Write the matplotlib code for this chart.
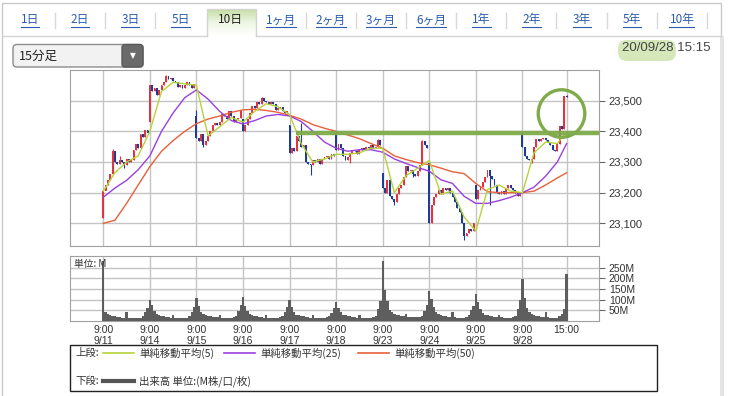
import numpy as np
import matplotlib
matplotlib.use('Agg')
import matplotlib.pyplot as plt
from matplotlib.patches import Rectangle, Ellipse, FancyBboxPatch
from matplotlib.colors import LinearSegmentedColormap

plt.rcParams['font.family'] = ['Noto Sans CJK JP', 'DejaVu Sans']

W, H = 735, 396

# 15分足 / 1日20本
days = ['9/11', '9/14', '9/15', '9/16', '9/17', '9/18', '9/23', '9/24', '9/25', '9/28']
day_open = [23117, 23430, 23450, 23440, 23420, 23395, 23264, 23296, 23225, 23395]
closes = [
    [23204, 23225, 23240, 23262, 23335, 23300, 23295, 23305, 23300, 23290,
     23310, 23300, 23305, 23340, 23360, 23345, 23390, 23380, 23405, 23395],
    [23550, 23530, 23540, 23520, 23535, 23550, 23560, 23580, 23570, 23575,
     23565, 23560, 23545, 23550, 23540, 23550, 23560, 23550, 23540, 23555],
    [23378, 23367, 23390, 23357, 23370, 23385, 23400, 23422, 23427, 23420,
     23430, 23455, 23450, 23440, 23465, 23450, 23430, 23440, 23445, 23465],
    [23400, 23420, 23440, 23460, 23482, 23475, 23495, 23490, 23508, 23500,
     23495, 23490, 23495, 23490, 23470, 23475, 23478, 23465, 23460, 23465],
    [23330, 23345, 23335, 23384, 23370, 23350, 23355, 23300, 23295, 23290,
     23305, 23300, 23310, 23295, 23310, 23315, 23320, 23310, 23325, 23320],
    [23340, 23360, 23345, 23320, 23308, 23315, 23330, 23340, 23335, 23325,
     23340, 23345, 23340, 23350, 23345, 23355, 23345, 23350, 23372, 23355],
    [23215, 23200, 23240, 23190, 23180, 23170, 23195, 23215, 23225, 23250,
     23286, 23270, 23275, 23262, 23255, 23270, 23290, 23367, 23355, 23345],
    [23100, 23160, 23185, 23195, 23210, 23195, 23215, 23210, 23215, 23200,
     23185, 23170, 23150, 23136, 23100, 23060, 23070, 23080, 23075, 23100],
    [23180, 23210, 23220, 23235, 23250, 23275, 23255, 23245, 23225, 23200,
     23195, 23205, 23195, 23215, 23225, 23215, 23210, 23200, 23190, 23195],
    [23350, 23320, 23310, 23305, 23310, 23350, 23375, 23370, 23375, 23378,
     23372, 23365, 23355, 23340, 23335, 23360, 23418, 23408, 23515, 23512],
]
# ヒゲ (目立つものだけ): bar index -> price
wick_high = {4: 23342, 7: 23318, 27: 23585, 40: 23470, 68: 23512, 85: 23427,
             100: 23398, 118: 23376, 137: 23372, 180: 23398, 199: 23518}
wick_low = {1: 23212, 9: 23280, 43: 23348, 89: 23257, 106: 23296, 125: 23160,
            133: 23250, 155: 23045, 166: 23160, 184: 23298}

# 出来高 (M)
volumes = [
    [280, 40, 32, 28, 25, 22, 20, 18, 16, 15, 42, 15, 13, 12, 12, 13, 15, 22, 40, 60],
    [100, 75, 45, 32, 28, 25, 22, 20, 18, 16, 28, 15, 14, 13, 13, 14, 16, 22, 40, 65],
    [110, 70, 42, 32, 28, 25, 22, 20, 18, 17, 30, 16, 15, 14, 14, 15, 17, 24, 45, 75],
    [113, 72, 45, 33, 28, 25, 22, 20, 18, 16, 28, 16, 15, 14, 14, 15, 17, 22, 40, 65],
    [100, 68, 42, 30, 26, 24, 22, 20, 18, 16, 30, 16, 15, 14, 14, 15, 17, 22, 38, 62],
    [91, 60, 40, 30, 26, 24, 22, 20, 18, 16, 28, 15, 14, 13, 13, 15, 18, 25, 55, 95],
    [281, 145, 95, 50, 40, 35, 30, 28, 25, 22, 35, 20, 18, 17, 17, 18, 20, 25, 45, 75],
    [140, 105, 65, 40, 32, 28, 25, 22, 20, 18, 40, 18, 16, 15, 15, 16, 20, 28, 50, 70],
    [127, 90, 55, 38, 30, 27, 25, 22, 20, 18, 30, 17, 16, 15, 15, 16, 18, 25, 55, 100],
    [195, 110, 60, 40, 32, 28, 25, 22, 20, 18, 40, 18, 16, 15, 15, 16, 22, 35, 55, 222],
]

ma_idx = list(range(0, 200, 5)) + [199]
ma5 = [23205, 23265, 23300, 23320, 23400, 23530, 23560, 23555, 23550, 23385,
       23415, 23445, 23430, 23465, 23490, 23480, 23455, 23360, 23300, 23310,
       23325, 23325, 23330, 23345, 23345, 23200, 23255, 23280, 23305, 23195,
       23205, 23120, 23075, 23210, 23225, 23205, 23200, 23330, 23365, 23360, 23400]
ma25 = [23185, 23215, 23240, 23275, 23320, 23400, 23460, 23510, 23535, 23505,
        23465, 23435, 23424, 23435, 23450, 23455, 23450, 23432, 23400, 23365,
        23345, 23335, 23340, 23340, 23332, 23310, 23295, 23282, 23270, 23242,
        23230, 23188, 23165, 23165, 23174, 23185, 23200, 23218, 23254, 23300, 23360]
ma50 = [23100, 23110, 23165, 23225, 23285, 23335, 23370, 23400, 23425, 23440,
        23450, 23462, 23470, 23472, 23468, 23462, 23452, 23440, 23422, 23410,
        23400, 23388, 23376, 23360, 23345, 23320, 23308, 23298, 23291, 23280,
        23268, 23262, 23230, 23203, 23200, 23200, 23200, 23205, 23225, 23248, 23265]

price_ticks = [23100, 23200, 23300, 23400, 23500]
vol_ticks = [50, 100, 150, 200, 250]
tabs = ['1日', '2日', '3日', '5日', '10日', '1ヶ月', '2ヶ月', '3ヶ月', '6ヶ月',
        '1年', '2年', '3年', '5年', '10年']
active_tab = '10日'

c_up, c_dn = '#e23440', '#1d3c94'
c_ma5, c_ma25, c_ma50 = '#b5d33a', '#9a3fe0', '#e8603a'
c_mark = '#7fab4a'
grid_c = '#c4c4c4'

n_bar = 20
close = np.concatenate(closes).astype(float)
opn = np.empty_like(close)
for d in range(len(days)):
    opn[d * n_bar] = day_open[d]
    opn[d * n_bar + 1:(d + 1) * n_bar] = close[d * n_bar:(d + 1) * n_bar - 1]
vol = np.concatenate(volumes).astype(float)
idx = np.arange(len(close))

fig = plt.figure(figsize=(W / 100, H / 100), dpi=100)

# overlay in pixel coordinates for page decorations
ov = fig.add_axes([0, 0, 1, 1], zorder=0)
ov.set_xlim(0, W)
ov.set_ylim(H, 0)
ov.axis('off')

ov.add_patch(Rectangle((2.5, 2.5), 719, 400, fill=False, ec='#c9c9c9', lw=1))
ov.add_patch(Rectangle((720, 36), 4, 370, fc='#e4e4e4', ec='none'))
ov.plot([3, 207], [36, 36], color='#d3d3d3', lw=1)
ov.plot([256, 721], [36, 36], color='#d3d3d3', lw=1)

# tabs
grad = np.linspace(0, 1, 50).reshape(-1, 1)
cm = LinearSegmentedColormap.from_list('tab', ['#c6dea3', '#eef6e4', '#ffffff'])
ov.imshow(grad, cmap=cm, extent=(207, 256, 36, 9), aspect='auto', zorder=1)
ov.plot([207, 207, 256, 256], [36, 9, 9, 36], color='#d3d3d3', lw=1, zorder=2)
fig.canvas.draw()
renderer = fig.canvas.get_renderer()
for k, t in enumerate(tabs):
    cx = 30 + 50.15 * k
    if t == active_tab:
        ov.text(cx, 20, t, ha='center', va='center', fontsize=8.5, color='#222222',
                zorder=3)
        continue
    tx = ov.text(cx, 20, t, ha='center', va='center', fontsize=8.5, color='#2b5cae',
                 zorder=3)
    bb = tx.get_window_extent(renderer).transformed(ov.transData.inverted())
    ov.plot([bb.x0, bb.x1], [26.5, 26.5], color='#2b5cae', lw=0.8, zorder=3)
    if k < len(tabs) - 1 and tabs[k + 1] != active_tab:
        ov.plot([cx + 25, cx + 25], [13, 28], color='#d8d8d8', lw=1)
ov.plot([707, 707], [13, 28], color='#d8d8d8', lw=1)

# dropdown
ov.add_patch(FancyBboxPatch((13, 44.5), 130, 22.5, boxstyle='round,pad=0,rounding_size=4',
                            fc='#f2f2f2', ec='#8c8c8c', lw=1))
ov.add_patch(FancyBboxPatch((122, 44.5), 21, 22.5, boxstyle='round,pad=0,rounding_size=3',
                            fc='#6a6a6a', ec='#5a5a5a', lw=1))
ov.text(132.5, 55.5, '▼', ha='center', va='center', fontsize=5.5, color='white',
        family='DejaVu Sans')
ov.text(19, 56, '15分足', ha='left', va='center', fontsize=9, color='#222222')

# date stamp
ov.add_patch(FancyBboxPatch((618, 40), 58, 21, boxstyle='round,pad=0,rounding_size=9',
                            fc='#cfe4ad', ec='none', alpha=0.85))
ov.text(711, 48, '20/09/28 15:15', ha='right', va='center', fontsize=9.5,
        color='#444444', family='Liberation Sans')

# legend box
ov.add_patch(Rectangle((70, 344.5), 587, 46.5, fill=False, ec='#222222', lw=1))
ly1, ly2 = 353, 381
ov.text(75, ly1, '上段:', va='center', fontsize=7.5, color='#333333')
ov.text(75, ly2, '下段:', va='center', fontsize=7.5, color='#333333')
for x0, c, lab in [(103, c_ma5, '単純移動平均(5)'), (224, c_ma25, '単純移動平均(25)'),
                   (358, c_ma50, '単純移動平均(50)')]:
    ov.plot([x0, x0 + 31], [ly1, ly1], color=c, lw=1.2)
    ov.text(x0 + 36, ly1, lab, va='center', fontsize=7.5, color='#333333')
ov.plot([103, 134], [ly2, ly2], color='#555555', lw=3)
ov.text(139, ly2, '出来高 単位:(M株/口/枚)', va='center', fontsize=7.5, color='#333333')

# price panel
xlim = (-14.3, 212.9)
ax = fig.add_axes([70 / W, 1 - 246 / H, 529 / W, 176 / H], zorder=1)
ax.set_xlim(*xlim)
ax.set_ylim(23026, 23600)
xt = [d * n_bar for d in range(len(days))] + [len(close) - 1]
ax.set_xticks(xt)
ax.set_xticklabels([])
ax.tick_params(axis='x', length=0)
ax.set_yticks(price_ticks)
ax.yaxis.tick_right()
ax.set_yticklabels([f'{v:,}' for v in price_ticks], fontsize=8,
                   family='Liberation Sans', color='#333333')
ax.tick_params(axis='y', direction='out', length=4, color='#666666', pad=3)
ax.grid(True, color=grid_c, lw=1)
ax.set_axisbelow(True)
for s in ax.spines.values():
    s.set_color('#a0a0a0')

body = close - opn
h = np.where(np.abs(body) < 3, np.where(body >= 0, 3, -3), body)
up = body >= 0
hi = np.maximum(opn, close)
lo = np.minimum(opn, close)
for i, v in wick_high.items():
    hi[i] = v
for i, v in wick_low.items():
    lo[i] = v
ax.vlines(idx[up], lo[up], hi[up], color=c_up, lw=0.8, zorder=3)
ax.vlines(idx[~up], lo[~up], hi[~up], color=c_dn, lw=0.8, zorder=3)
ax.bar(idx[up], h[up], bottom=opn[up], width=0.8, color=c_up, lw=0, zorder=3)
ax.bar(idx[~up], h[~up], bottom=opn[~up], width=0.8, color=c_dn, lw=0, zorder=3)
ax.plot(ma_idx, ma50, color=c_ma50, lw=1, zorder=4)
ax.plot(ma_idx, ma25, color=c_ma25, lw=1, zorder=4)
ax.plot(ma_idx, ma5, color=c_ma5, lw=1, zorder=4)

# hand-drawn marks
ax.plot([82.7, xlim[1]], [23393, 23393], color=c_mark, lw=3.2, alpha=0.95,
        solid_capstyle='butt', zorder=5, clip_on=False)
ax.add_patch(Ellipse((196.8, 23458), 20.0, 155, fill=False, ec=c_mark, lw=2.4, zorder=5))

# volume panel
axv = fig.add_axes([70 / W, 1 - 321 / H, 529 / W, 65 / H], zorder=1)
axv.set_xlim(*xlim)
axv.set_ylim(0, 305)
axv.bar(idx, vol, width=1.0, color='#5e5e5e', lw=0, zorder=3)
axv.set_xticks(xt)
axv.set_xticklabels([f'9:00\n{d}' for d in days] + ['15:00'], fontsize=7.5,
                    family='Liberation Sans', color='#333333', linespacing=1.05)
axv.tick_params(axis='x', length=0, pad=3)
axv.set_yticks(vol_ticks)
axv.yaxis.tick_right()
axv.set_yticklabels([f'{v}M' for v in vol_ticks], fontsize=7.5,
                    family='Liberation Sans', color='#333333')
axv.tick_params(axis='y', direction='out', length=4, color='#666666', pad=3)
axv.grid(True, color=grid_c, lw=1)
axv.set_axisbelow(True)
for s in axv.spines.values():
    s.set_color('#a0a0a0')
axv.text(0.008, 0.96, '単位: M', transform=axv.transAxes, va='top', ha='left',
         fontsize=7, color='#333333', zorder=5)

fig.savefig('out.png', dpi=100)
